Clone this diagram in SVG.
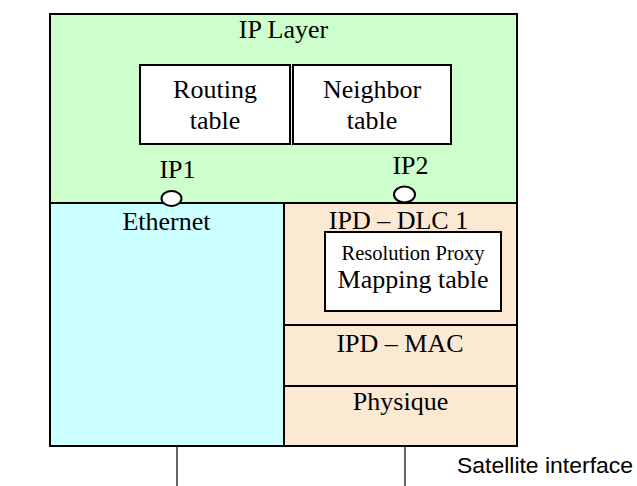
<svg xmlns="http://www.w3.org/2000/svg" width="637" height="486" viewBox="0 0 637 486">
<style>
.t{font-family:"Liberation Serif","Times New Roman",serif;font-size:26px;fill:#000;text-anchor:middle}
.s{font-family:"Liberation Sans",Arial,sans-serif;font-size:22px;fill:#000}
.box{stroke:#000;stroke-width:2}
.w{fill:#fff;stroke:#000;stroke-width:2}
.ln{stroke:#000;stroke-width:1.2;fill:none}
</style>
<rect width="637" height="486" fill="#fff"/>
<g id="ip-layer">
<rect class="box" x="50" y="14" width="467" height="189" fill="#ccffcc"/>
<text class="t" x="283.5" y="38">IP Layer</text>
</g>
<g id="routing-table">
<rect class="w" x="140" y="65" width="150" height="79"/>
<text class="t" x="215" y="98">Routing</text>
<text class="t" x="215" y="129">table</text>
</g>
<g id="neighbor-table">
<rect class="w" x="293" y="65" width="158" height="79"/>
<text class="t" x="372" y="98">Neighbor</text>
<text class="t" x="372" y="129">table</text>
</g>
<g id="ethernet">
<rect class="box" x="50" y="203" width="234" height="243" fill="#ccffff"/>
<text class="t" x="166.5" y="230">Ethernet</text>
</g>
<g id="ipd-dlc1">
<rect class="box" x="284" y="203" width="233" height="122" fill="#fbe9d3"/>
<text class="t" x="398.5" y="229">IPD – DLC 1</text>
</g>
<g id="mapping-table">
<rect class="w" x="325" y="232" width="176" height="79"/>
<text class="t" x="413" y="260" style="font-size:20.5px">Resolution Proxy</text>
<text class="t" x="413" y="288">Mapping table</text>
</g>
<g id="ipd-mac">
<rect class="box" x="284" y="325" width="233" height="61" fill="#fbe9d3"/>
<text class="t" x="400" y="352">IPD – MAC</text>
</g>
<g id="physique">
<rect class="box" x="284" y="386" width="233" height="60" fill="#fbe9d3"/>
<text class="t" x="400.5" y="410">Physique</text>
</g>
<g id="ip1">
<ellipse class="w" cx="171.5" cy="198.5" rx="10" ry="7.5"/>
<text class="t" x="177.5" y="178">IP1</text>
</g>
<g id="ip2">
<ellipse class="w" cx="404.5" cy="194.5" rx="10.5" ry="8"/>
<text class="t" x="410.5" y="174">IP2</text>
</g>
<g id="connectors">
<line class="ln" x1="177" y1="446" x2="177" y2="486"/>
<line class="ln" x1="405" y1="446" x2="405" y2="486"/>
</g>
<text class="s" x="457" y="473" textLength="176" lengthAdjust="spacingAndGlyphs">Satellite interface</text>
</svg>
